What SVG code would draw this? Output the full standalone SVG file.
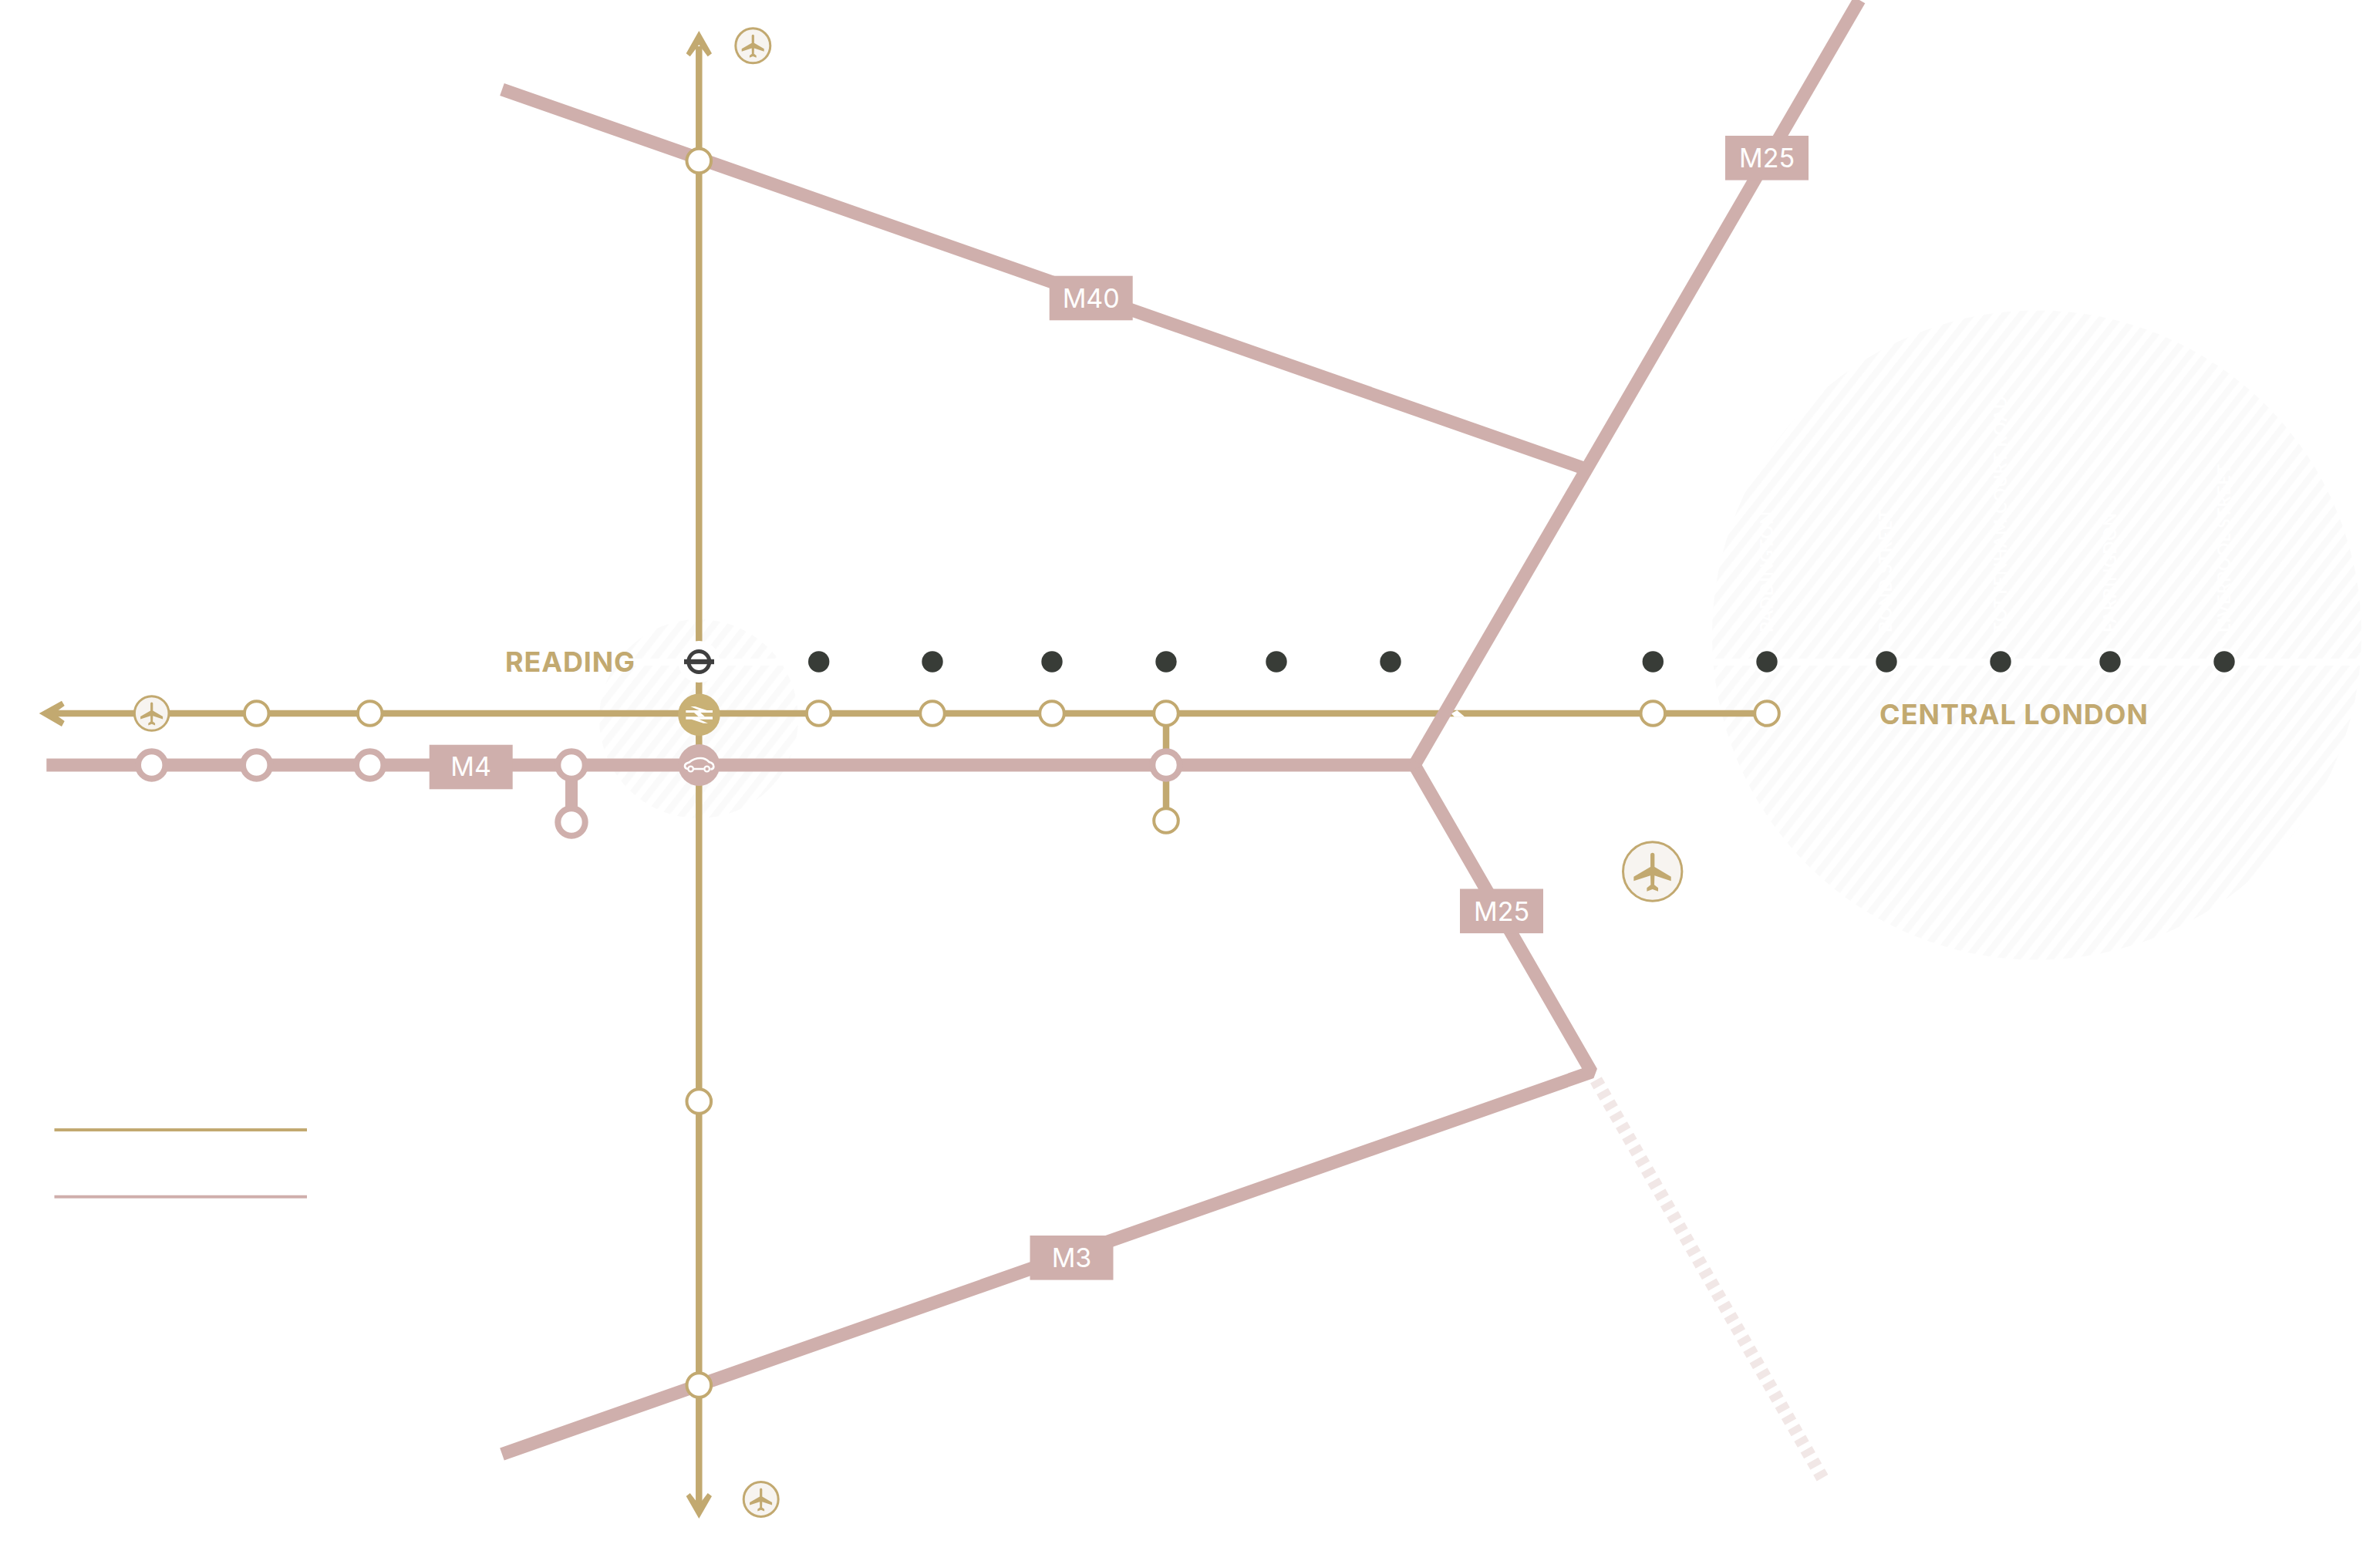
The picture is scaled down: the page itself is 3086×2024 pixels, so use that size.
<svg xmlns="http://www.w3.org/2000/svg" xmlns:xlink="http://www.w3.org/1999/xlink" width="3086" height="2024" viewBox="0 0 3086 2024">
<style>
.gl{fill:none;stroke:#c2a970;stroke-width:8.5}
.pl{fill:none;stroke:#cfafac;stroke-width:17;stroke-linejoin:bevel}
.gn{fill:#fff;stroke:#c2a970;stroke-width:4}
.pn{fill:#fff;stroke:#cfafac;stroke-width:8}
.dot{fill:#383c37;stroke:#fff;stroke-width:7;paint-order:stroke}
.air{fill:#f7f4f0;stroke:#c2a970;stroke-width:3}
.lab{fill:#cfafac}
.lt{font-family:"Inter","Liberation Sans",sans-serif;font-size:34px;fill:#fff;text-anchor:middle}
.gt{font-family:"Inter","Liberation Sans",sans-serif;font-weight:700;font-size:36px;fill:#c2a970}
.wt{font-family:"Lato","Liberation Sans",sans-serif;font-weight:700;font-size:22px;fill:#fff;letter-spacing:1px}
.arrow{fill:#c2a970}
</style>
<defs>
<pattern id="hatch" width="17" height="17" patternUnits="userSpaceOnUse" patternTransform="rotate(38)">
<rect width="8.5" height="17" fill="#fafafa"/>
</pattern>
<path id="plane" fill="#c2a970" transform="scale(.3333) translate(-248,-210)" d="M240 145Q240 137 248 137Q256 137 256 145L256 192L320 230L320 247L256 226L255 262L270 274L270 287L248 279L226 287L226 274L241 262L240 226L175 247L175 230L240 192Z"/>
</defs>

<g id="hatched-areas">
<circle cx="906" cy="932" r="129" fill="url(#hatch)"/>
<circle cx="2641" cy="823.5" r="421" fill="url(#hatch)"/>
<rect x="770" y="854" width="2316" height="9" fill="#fff"/>
<g id="ghost-labels">
<text class="wt" transform="translate(2299,820) rotate(-90)">PADDINGTON</text>
<text class="wt" transform="translate(2453,820) rotate(-90)">BOND STREET</text>
<text class="wt" transform="translate(2602,820) rotate(-90)">TOTTENHAM COURT ROAD</text>
<text class="wt" transform="translate(2744,820) rotate(-90)">FARRINGDON</text>
<text class="wt" transform="translate(2892,820) rotate(-90)">LIVERPOOL STREET</text>
</g>
</g>

<g id="connectors">
<line class="gl" x1="906.3" y1="60" x2="906.3" y2="1955"/>
<line class="gl" x1="70" y1="925" x2="2291" y2="925"/>
<line class="gl" x1="1512" y1="925" x2="1512" y2="1064"/>
<polygon points="1889.3,921 1899.3,929.5 1886,929.5 1881.7,925.3" fill="#fff"/>
<polygon class="arrow" points="50.7,925 80,908.7 83.7,915 70,925 83.7,935 80,942"/>
<polygon class="arrow" points="906.3,40 923,69.3 917.7,73.3 906.3,58 894.7,73.3 889.7,69.3"/>
<polygon class="arrow" points="906.3,1969 923,1940 917.7,1936 906.3,1951 894.7,1936 889.7,1940"/>
<line x1="2069.4" y1="1400.4" x2="2363.5" y2="1917" fill="none" stroke="#f1e7e6" stroke-width="17" stroke-dasharray="9 7.7"/>
<line class="pl" x1="651" y1="116" x2="2056" y2="608"/>
<polyline class="pl" points="651,1885.5 2063.6,1390 1834,992"/>
<line class="pl" x1="60.3" y1="992" x2="1834" y2="992"/>
<line class="pl" x1="1834" y1="992" x2="2411" y2="0"/>
<polygon points="1844,992 1829.5,984 1829.5,1000" fill="#cfafac"/>
<line class="pl" x1="741" y1="992" x2="741" y2="1066" style="stroke-width:16"/>
<line x1="70.5" y1="1465" x2="398" y2="1465" stroke="#c2a970" stroke-width="4"/>
<line x1="70.5" y1="1551.7" x2="398" y2="1551.7" stroke="#cfafac" stroke-width="4"/>
</g>

<g id="road-labels">
<g id="label-m40"><rect class="lab" x="1360.7" y="357.7" width="108" height="57.6"/><text class="lt" x="1414.7" y="398.5">M40</text></g>
<g id="label-m25-north"><rect class="lab" x="2237" y="176" width="108" height="57.6"/><text class="lt" x="2291" y="217">M25</text></g>
<g id="label-m25-south"><rect class="lab" x="1893" y="1152.5" width="108" height="57.6"/><text class="lt" x="1947" y="1193.5">M25</text></g>
<g id="label-m4"><rect class="lab" x="556.7" y="965.7" width="108" height="57.6"/><text class="lt" x="610.7" y="1006">M4</text></g>
<g id="label-m3"><rect class="lab" x="1335.5" y="1602" width="108" height="57.6"/><text class="lt" x="1389.5" y="1643">M3</text></g>
</g>

<g id="rail-stations">
<circle class="gn" cx="332.7" cy="925" r="15.8"/>
<circle class="gn" cx="479.7" cy="925" r="15.8"/>
<circle class="gn" cx="1061.7" cy="925" r="15.8"/>
<circle class="gn" cx="1209" cy="925" r="15.8"/>
<circle class="gn" cx="1364" cy="925" r="15.8"/>
<circle class="gn" cx="1512" cy="925" r="15.8"/>
<circle class="gn" cx="2143.3" cy="925" r="15.8"/>
<circle class="gn" cx="2291" cy="925" r="15.8"/>
<circle class="gn" cx="906.3" cy="208.5" r="15.8"/>
<circle class="gn" cx="906.3" cy="1428" r="15.8"/>
<circle class="gn" cx="906.3" cy="1796" r="15.8"/>
<circle class="gn" cx="1512" cy="1064" r="15.8"/>
</g>

<g id="road-junctions">
<circle class="pn" cx="196.7" cy="992" r="17.7"/>
<circle class="pn" cx="332.7" cy="992" r="17.7"/>
<circle class="pn" cx="479.7" cy="992" r="17.7"/>
<circle class="pn" cx="741" cy="992" r="17.7"/>
<circle class="pn" cx="741" cy="1066" r="17.7"/>
<circle class="pn" cx="1512" cy="992" r="17.7"/>
</g>

<g id="underground-stops">
<circle class="dot" cx="1061.7" cy="858" r="13.7"/>
<circle class="dot" cx="1209" cy="858" r="13.7"/>
<circle class="dot" cx="1364" cy="858" r="13.7"/>
<circle class="dot" cx="1512" cy="858" r="13.7"/>
<circle class="dot" cx="1655" cy="858" r="13.7"/>
<circle class="dot" cx="1803" cy="858" r="13.7"/>
<circle class="dot" cx="2143.3" cy="858" r="13.7"/>
<circle class="dot" cx="2291" cy="858" r="13.7"/>
<circle class="dot" cx="2446" cy="858" r="13.7"/>
<circle class="dot" cx="2594" cy="858" r="13.7"/>
<circle class="dot" cx="2736" cy="858" r="13.7"/>
<circle class="dot" cx="2884" cy="858" r="13.7"/>
</g>

<g id="reading-tube">
<circle cx="906.3" cy="858" r="27" fill="#fff"/>
<circle cx="906.3" cy="858" r="13.5" fill="none" stroke="#3f3f3f" stroke-width="5"/>
<rect x="887" y="854.8" width="39" height="6.4" fill="#3f3f3f"/>
</g>
<g id="reading-rail">
<circle cx="906.5" cy="926.7" r="27.3" fill="#c9b175"/>
<g fill="#fff" transform="translate(760,780) scale(.3333)">
<polygon points="406,408 424,408 470,423 492,423 492,432 388,432 388,423 440,423"/>
<polygon points="474,473 456,473 410,458 388,458 388,448 492,448 492,458 440,458"/>
<polygon points="420,432 445,432 462,448 437,448"/>
</g>
</g>
<g id="reading-road">
<circle cx="906.3" cy="992" r="27" fill="#cfafac"/>
<g transform="translate(760,780) scale(.3333)">
<path d="M396 651Q384 650 384 640Q384 630 400 626Q420 609 445 609Q465 609 478 624Q496 628 496 642Q496 652 484 652M420 651L458 651" fill="none" stroke="#fff" stroke-width="8"/>
<circle cx="407" cy="651" r="10" fill="#cfafac" stroke="#fff" stroke-width="7"/>
<circle cx="470" cy="651" r="10" fill="#cfafac" stroke="#fff" stroke-width="7"/>
</g>
</g>

<g id="airport-west"><circle class="air" cx="196.7" cy="925" r="22.3"/><use xlink:href="#plane" href="#plane" transform="translate(196.7,925) scale(.6)"/></g>
<g id="airport-north"><circle class="air" cx="976.3" cy="59.3" r="22.5"/><use xlink:href="#plane" href="#plane" transform="translate(976.3,59.3) scale(.6)"/></g>
<g id="airport-south"><circle class="air" cx="986.7" cy="1944" r="22.5"/><use xlink:href="#plane" href="#plane" transform="translate(986.7,1944) scale(.6)"/></g>
<g id="airport-heathrow"><circle class="air" cx="2142.7" cy="1130" r="38.2"/><use xlink:href="#plane" href="#plane" transform="translate(2142.7,1130)"/></g>

<g id="place-labels">
<text class="gt" x="655" y="871" textLength="168">READING</text>
<text class="gt" x="2437" y="938.5" textLength="348">CENTRAL LONDON</text>
</g>
</svg>
